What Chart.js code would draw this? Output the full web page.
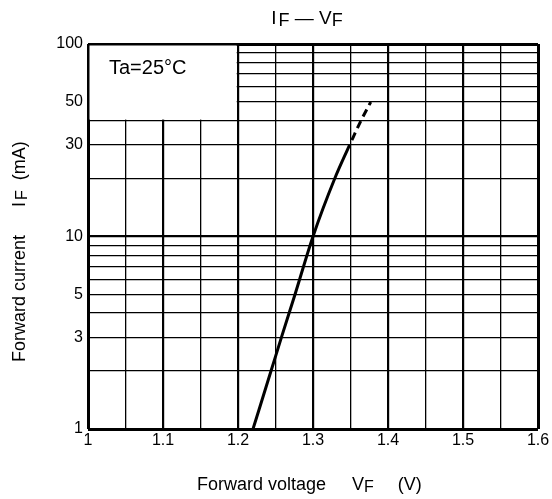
<!DOCTYPE html>
<html>
<head>
<meta charset="utf-8">
<script src="https://cdn.jsdelivr.net/npm/chart.js@4/dist/chart.umd.min.js"></script>
<style>
  html, body { margin: 0; padding: 0; background: #fff; }
  #wrap { width: 552px; height: 499px; }
</style>
</head>
<body>
<div id="wrap"><canvas id="ivChart" width="552" height="499"></canvas></div>
<script>
// IF - VF curve
const vfSolid = [1.220, 1.244, 1.258, 1.276, 1.300, 1.329, 1.349];
const ifSolid = [1, 2, 3, 5, 10, 20, 30];
const vfDashed = [1.349, 1.364, 1.377];
const ifDashed = [30, 40, 50];

const xGrid = [1, 1.05, 1.1, 1.15, 1.2, 1.25, 1.3, 1.35, 1.4, 1.45, 1.5, 1.55, 1.6];
const xLabels = [1, 1.1, 1.2, 1.3, 1.4, 1.5, 1.6];
const yGrid = [1, 2, 3, 4, 5, 6, 7, 8, 9, 10, 20, 30, 40, 50, 60, 70, 80, 90, 100];
const yLabels = [1, 3, 5, 10, 30, 50, 100];

const FONT = "'Liberation Sans', Arial, sans-serif";
const near = (a, b) => Math.abs(a - b) < 1e-6;

// draws a row of text pieces (for the subscript F's)
function drawRuns(ctx, runs, x, y) {
    let cx = x;
    runs.forEach(r => {
        ctx.font = r.size + 'px ' + FONT;
        ctx.fillText(r.text, cx, y + (r.dy || 0));
        cx += ctx.measureText(r.text).width + (r.gap || 0);
    });
    return cx - x;
}
function runsWidth(ctx, runs) {
    let w = 0;
    runs.forEach(r => {
        ctx.font = r.size + 'px ' + FONT;
        w += ctx.measureText(r.text).width + (r.gap || 0);
    });
    return w;
}

const sheetPlugin = {
    id: 'sheet',
    beforeDatasetsDraw(chart) {
        const {ctx, chartArea: a, scales: {x, y}} = chart;
        // blank box for the condition note
        const bx = x.getPixelForValue(1.2);
        const by = y.getPixelForValue(40);
        ctx.save();
        ctx.fillStyle = '#fff';
        ctx.fillRect(a.left + 1.5, a.top + 1.5, bx - a.left - 2.8, by - a.top - 2.5);
        ctx.fillStyle = '#000';
        ctx.textBaseline = 'middle';
        ctx.font = '20px ' + FONT;
        ctx.fillText('Ta=25°C', a.left + 21, a.top + 24);
        ctx.restore();
    },
    afterDraw(chart) {
        const {ctx} = chart;
        ctx.save();
        ctx.fillStyle = '#000';
        ctx.textBaseline = 'alphabetic';

        // title
        const title = [
            {text: 'I', size: 19, gap: 2},
            {text: 'F', size: 18, dy: 2},
            {text: ' — ', size: 19},
            {text: 'V', size: 19},
            {text: 'F', size: 18, dy: 2}
        ];
        const tw = runsWidth(ctx, title);
        drawRuns(ctx, title, 307 - tw / 2, 24);

        // x axis title
        const xt = [
            {text: 'Forward voltage', size: 18, gap: 26},
            {text: 'V', size: 18},
            {text: 'F', size: 16, dy: 2, gap: 24},
            {text: '(V)', size: 18}
        ];
        drawRuns(ctx, xt, 197, 490);

        // y axis title (rotated)
        const yt = [
            {text: 'Forward current', size: 18, gap: 28},
            {text: 'I', size: 18, gap: 2},
            {text: 'F', size: 16, dy: 2, gap: 10},
            {text: '(mA)', size: 18}
        ];
        ctx.translate(25, 362);
        ctx.rotate(-Math.PI / 2);
        drawRuns(ctx, yt, 0, 0);
        ctx.restore();
    }
};

const ctx = document.getElementById('ivChart').getContext('2d');
new Chart(ctx, {
    type: 'line',
    data: {
        datasets: [
            {
                data: vfSolid.map((v, i) => ({x: v, y: ifSolid[i]})),
                borderColor: '#000',
                borderWidth: 3,
                pointRadius: 0,
                cubicInterpolationMode: 'monotone'
            },
            {
                data: vfDashed.map((v, i) => ({x: v, y: ifDashed[i]})),
                borderColor: '#000',
                borderWidth: 3,
                borderDash: [8, 5],
                borderDashOffset: -5,
                pointRadius: 0,
                cubicInterpolationMode: 'monotone'
            }
        ]
    },
    options: {
        responsive: false,
        animation: false,
        layout: {padding: {top: 44, right: 14, left: 0, bottom: 0}},
        plugins: {
            legend: {display: false},
            title: {display: false},
            tooltip: {enabled: false}
        },
        scales: {
            x: {
                type: 'linear',
                min: 1,
                max: 1.6,
                afterBuildTicks: s => { s.ticks = xGrid.map(v => ({value: v})); },
                afterFit: s => { s.height = 70; },
                border: {display: false},
                grid: {
                    color: '#000',
                    drawTicks: false,
                    lineWidth: c => {
                        const v = c.tick ? c.tick.value : 0;
                        if (near(v, 1) || near(v, 1.6)) return 3;
                        return xLabels.some(l => near(l, v)) ? 2.2 : 1.3;
                    }
                },
                ticks: {
                    autoSkip: false,
                    maxRotation: 0,
                    padding: 2,
                    color: '#000',
                    font: {family: FONT, size: 16},
                    callback: v => xLabels.some(l => near(l, v)) ? String(+v.toFixed(1)) : ''
                }
            },
            y: {
                type: 'logarithmic',
                min: 1,
                max: 100,
                afterBuildTicks: s => { s.ticks = yGrid.map(v => ({value: v})); },
                afterFit: s => { s.width = 88; },
                border: {display: false},
                grid: {
                    color: '#000',
                    drawTicks: false,
                    lineWidth: c => {
                        const v = c.tick ? c.tick.value : 0;
                        if (v === 1 || v === 100) return 3;
                        return v === 10 ? 2.2 : 1.3;
                    }
                },
                ticks: {
                    autoSkip: false,
                    padding: 5,
                    color: '#000',
                    font: {family: FONT, size: 16},
                    callback: v => yLabels.includes(v) ? String(v) : ''
                }
            }
        }
    },
    plugins: [sheetPlugin]
});
</script>
</body>
</html>
